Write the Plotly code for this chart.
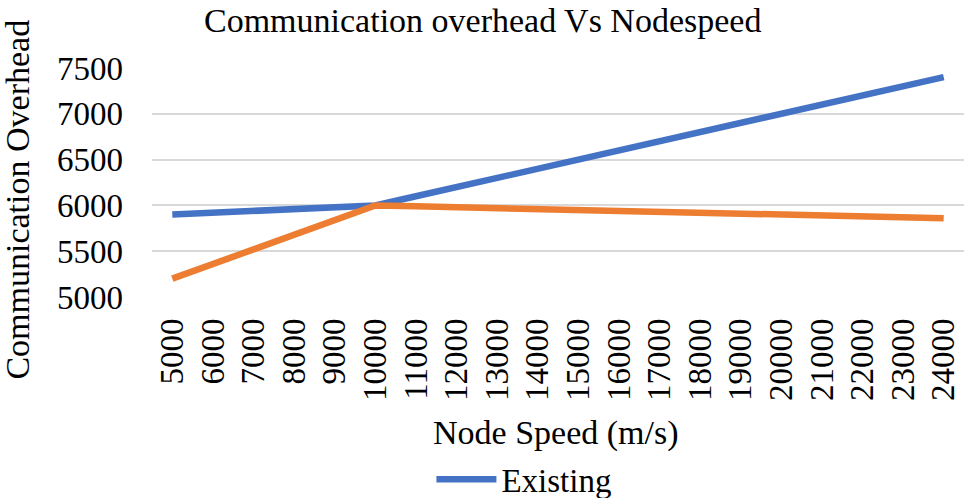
import plotly.graph_objects as go

node_speed = [str(v) for v in [5000, 6000, 7000, 8000, 9000, 10000, 11000, 12000, 13000, 14000,
                               15000, 16000, 17000, 18000, 19000, 20000, 21000, 22000, 23000, 24000]]
existing = [5900, 5920, 5940, 5960, 5980, 6000, 6100, 6200, 6300, 6400,
            6500, 6600, 6700, 6800, 6900, 7000, 7100, 7200, 7300, 7400]
proposed = [5200, 5360, 5520, 5680, 5840, 6000, 5990, 5980, 5970, 5960,
            5950, 5940, 5930, 5920, 5910, 5900, 5890, 5880, 5870, 5860]
y_ticks = [5000, 5500, 6000, 6500, 7000, 7500]
chart_title = "Communication overhead Vs Nodespeed"
x_title = "Node Speed (m/s)"
y_title = "Communication Overhead"

FONT = "Liberation Serif, Times New Roman, Times, serif"

fig = go.Figure()
fig.add_trace(go.Scatter(x=node_speed, y=existing, mode="lines", name="Existing",
                         line=dict(color="#4472C4", width=6.5)))
fig.add_trace(go.Scatter(x=node_speed, y=proposed, mode="lines", name="Proposed",
                         line=dict(color="#ED7D31", width=6.5), showlegend=False))

# plot area: x 152..964, y 68..297 (paper height 229, width 812)
fig.add_annotation(text=chart_title, xref="paper", yref="paper", x=0.4076, y=1,
                   xanchor="center", yanchor="top", yshift=68, showarrow=False,
                   font=dict(family=FONT, size=34, color="black"))
fig.add_annotation(text=x_title, xref="paper", yref="paper", x=0.498, y=-0.595,
                   xanchor="center", yanchor="middle", showarrow=False,
                   font=dict(family=FONT, size=34, color="black"))
fig.add_annotation(text=y_title, xref="paper", yref="paper", x=-0.1655, y=0.4236,
                   xanchor="center", yanchor="middle", textangle=-90, showarrow=False,
                   font=dict(family=FONT, size=34, color="black"))

fig.update_layout(
    width=964, height=498,
    paper_bgcolor="white", plot_bgcolor="white",
    margin=dict(l=152, r=0, t=68, b=201, autoexpand=False),
    font=dict(family=FONT, size=33, color="black"),
    xaxis=dict(type="category", range=[-0.5, 19.5], tickangle=-90, showgrid=False,
               showline=False, ticks="", ticklabelstandoff=14, automargin=False,
               tickfont=dict(family=FONT, size=33, color="black")),
    yaxis=dict(range=[5000, 7500], tickvals=y_ticks, showgrid=True, gridcolor="#D9D9D9",
               gridwidth=1.5, zeroline=False, showline=False, ticks="", ticklabelstandoff=28,
               automargin=False,
               tickfont=dict(family=FONT, size=33, color="black")),
    legend=dict(orientation="h", xref="container", yref="container", x=0.544, xanchor="center",
                y=0.094, yanchor="top", font=dict(family=FONT, size=33, color="black"),
                itemwidth=60),
    showlegend=True,
)

fig.write_html("out.html", config={"displayModeBar": False},
               post_script="document.body.style.margin='0';document.body.style.overflow='hidden';")
